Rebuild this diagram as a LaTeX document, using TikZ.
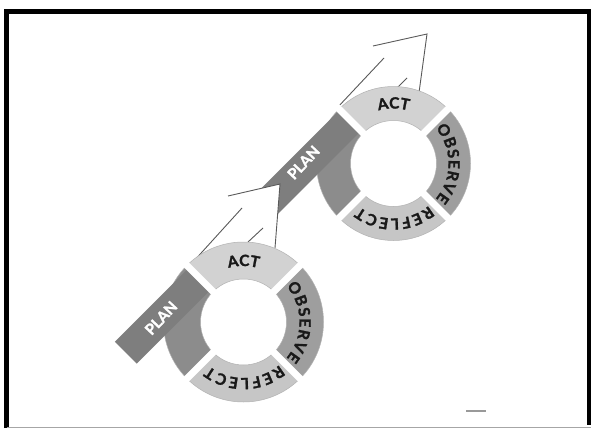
\documentclass[tikz,border=0pt]{standalone}
\usepackage{fontspec}
\newfontfamily\labfont{Lato}[FakeBold=1.6]
\usetikzlibrary{decorations.text}
\definecolor{actfill}{HTML}{D2D2D2}
\definecolor{obsfill}{HTML}{9E9E9E}
\definecolor{reffill}{HTML}{C6C6C6}
\definecolor{planarc}{HTML}{8C8C8C}
\definecolor{planband}{HTML}{7E7E7E}
\newcommand\lab{\labfont\bfseries\fontsize{15.5}{15.5}\selectfont\color{black!90}}
\newcommand\ringsegment[5]{%
  \path[segstyle, fill=#5] (#1:#4) arc[start angle=#1, end angle=#2, radius=#4]
    -- (#2:#3) arc[start angle=#2, end angle=#1, radius=#3] -- cycle;}
\newcommand\drawcycle[3]{%
  \ringsegment{45}{135}{#1}{#2}{actfill}
  \ringsegment{-45}{45}{#1}{#2}{obsfill}
  \ringsegment{-135}{-45}{#1}{#2}{reffill}
  \ringsegment{135}{225}{#1}{#2}{planarc}
  \path[decorate, decoration={text along path, text={|\lab|ACT}, text align=center}]
    (128:#3) arc[start angle=128, end angle=52, radius=#3];
  \path[decorate, decoration={text along path, text={|\lab|OBSERVE}, text align={fit to path}}]
    (40:#3) arc[start angle=40, end angle=-40, radius=#3];
  \path[decorate, decoration={text along path, text={|\lab|REFLECT}, text align={fit to path}}]
    (-50:#3) arc[start angle=-50, end angle=-128, radius=#3];
}
\tikzset{
  segstyle/.style={draw=black!30, line width=0.5pt},
  gapline/.style={draw=white, line width=7pt},
  arrowline/.style={draw=black!65, line width=0.9pt},
  arrowfill/.style={fill=white},
  bandstyle/.style={fill=planband},
  plantext/.style={text=white, font=\labfont\bfseries\fontsize{15}{15}\selectfont, inner sep=0pt},
  frameline/.style={draw=black, line width=4.8pt},
}
\begin{document}
\begin{tikzpicture}[x=1pt,y=1pt]
\useasboundingbox (0,-428) rectangle (591,0);
\fill[white] (0,-428) rectangle (591,0);
% frame
\draw[frameline] (6.5,-428) -- (6.5,-11.8) -- (591,-11.8);
\draw[frameline, line width=4pt] (588.5,-11.8) -- (588.5,-425);
\draw[draw=black!35, line width=1.2pt] (6.5,-427.3) -- (591,-427.3);
\draw[draw=black!40, line width=2pt] (466,-411) -- (486,-411);

% ---------- upper arrow ----------
\path[arrowfill] (337,-108) -- (384,-58) -- (373,-46) -- (427,-34) -- (418,-100) -- cycle;
\draw[arrowline] (337,-108) -- (384,-58);
\draw[arrowline] (373,-46) -- (427,-34) -- (418,-100);
\draw[arrowline] (395,-90) -- (407,-78);

% ---------- upper cycle ----------
\begin{scope}[shift={(393.5,-163.5)}]
  \drawcycle{43}{77}{55}
  \fill[bandstyle, rotate=45] (-130,46) rectangle (0,76);
  \foreach \a in {45,-45,-135,135} \draw[gapline] (\a:36) -- (\a:84);
  \node[plantext, rotate=47] (planB) at (-90,1) {PLAN};
\end{scope}

% ---------- lower arrow ----------
\path[arrowfill] (193,-262) -- (242,-208) -- (228,-196) -- (280,-184) -- (275,-248) -- cycle;
\draw[arrowline] (193,-262) -- (242,-208);
\draw[arrowline] (228,-196) -- (280,-184) -- (275,-248);
\draw[arrowline] (248,-242) -- (263,-228);

% ---------- lower cycle ----------
\begin{scope}[shift={(243.5,-322)}]
  \drawcycle{43}{80}{56}
  \fill[bandstyle, rotate=45] (-105,46) rectangle (0,77);
  \foreach \a in {45,-45,-135,135} \draw[gapline] (\a:36) -- (\a:88);
  \node[plantext, rotate=47] (planA) at (-82.5,4) {PLAN};
\end{scope}
\end{tikzpicture}
\end{document}
